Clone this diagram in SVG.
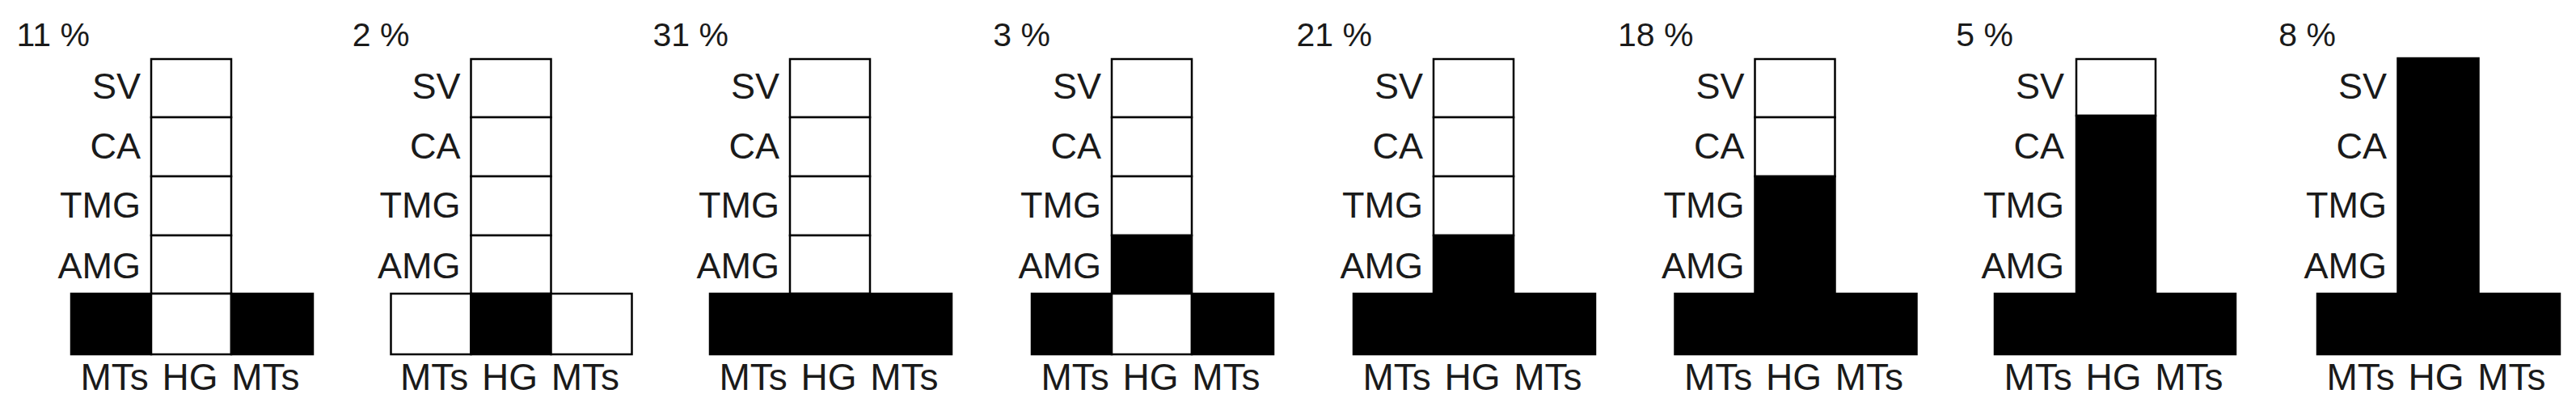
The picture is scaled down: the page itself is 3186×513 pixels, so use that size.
<svg xmlns="http://www.w3.org/2000/svg" width="3186" height="513" viewBox="0 0 3186 513">
<style>
rect{stroke:#000;stroke-width:2.5}
.w{fill:#fff}
.b{fill:#000}
text{font-family:"Liberation Sans",Arial,sans-serif;fill:#1a1a1a}
.pct{font-size:41px;text-anchor:end}
.lbl{font-size:45px;text-anchor:end}
.bot{font-size:46px;text-anchor:middle;word-spacing:4px}
</style>
<rect x="0" y="0" width="3186" height="513" style="fill:#fff;stroke:none"/>
<g id="p1" transform="translate(88,0)">
<text class="pct" x="23" y="57">11 %</text>
<text class="lbl" x="86" y="122">SV</text><text class="lbl" x="86" y="196">CA</text><text class="lbl" x="86" y="269">TMG</text><text class="lbl" x="86" y="343.5">AMG</text>
<rect class="w" x="99" y="73" width="99" height="72"/><rect class="w" x="99" y="145" width="99" height="73"/><rect class="w" x="99" y="218" width="99" height="73"/><rect class="w" x="99" y="291" width="99" height="72"/>
<rect class="b" x="0" y="363" width="99" height="75"/><rect class="w" x="99" y="363" width="99" height="75"/><rect class="b" x="198" y="363" width="101" height="75"/>
<text class="bot" x="147" y="482">MTs HG MTs</text>
</g>
<g id="p2" transform="translate(483.5,0)">
<text class="pct" x="23" y="57">2 %</text>
<text class="lbl" x="86" y="122">SV</text><text class="lbl" x="86" y="196">CA</text><text class="lbl" x="86" y="269">TMG</text><text class="lbl" x="86" y="343.5">AMG</text>
<rect class="w" x="99" y="73" width="99" height="72"/><rect class="w" x="99" y="145" width="99" height="73"/><rect class="w" x="99" y="218" width="99" height="73"/><rect class="w" x="99" y="291" width="99" height="72"/>
<rect class="w" x="0" y="363" width="99" height="75"/><rect class="b" x="99" y="363" width="99" height="75"/><rect class="w" x="198" y="363" width="100" height="75"/>
<text class="bot" x="147" y="482">MTs HG MTs</text>
</g>
<g id="p3" transform="translate(878,0)">
<text class="pct" x="23" y="57">31 %</text>
<text class="lbl" x="86" y="122">SV</text><text class="lbl" x="86" y="196">CA</text><text class="lbl" x="86" y="269">TMG</text><text class="lbl" x="86" y="343.5">AMG</text>
<rect class="w" x="99" y="73" width="99" height="72"/><rect class="w" x="99" y="145" width="99" height="73"/><rect class="w" x="99" y="218" width="99" height="73"/><rect class="w" x="99" y="291" width="99" height="72"/>
<rect class="b" x="0" y="363" width="299" height="75"/>
<text class="bot" x="147" y="482">MTs HG MTs</text>
</g>
<g id="p4" transform="translate(1276,0)">
<text class="pct" x="23" y="57">3 %</text>
<text class="lbl" x="86" y="122">SV</text><text class="lbl" x="86" y="196">CA</text><text class="lbl" x="86" y="269">TMG</text><text class="lbl" x="86" y="343.5">AMG</text>
<rect class="w" x="99" y="73" width="99" height="72"/><rect class="w" x="99" y="145" width="99" height="73"/><rect class="w" x="99" y="218" width="99" height="73"/><rect class="b" x="99" y="291" width="99" height="72"/>
<rect class="b" x="0" y="363" width="99" height="75"/><rect class="w" x="99" y="363" width="99" height="75"/><rect class="b" x="198" y="363" width="101" height="75"/>
<text class="bot" x="147" y="482">MTs HG MTs</text>
</g>
<g id="p5" transform="translate(1674,0)">
<text class="pct" x="23" y="57">21 %</text>
<text class="lbl" x="86" y="122">SV</text><text class="lbl" x="86" y="196">CA</text><text class="lbl" x="86" y="269">TMG</text><text class="lbl" x="86" y="343.5">AMG</text>
<rect class="w" x="99" y="73" width="99" height="72"/><rect class="w" x="99" y="145" width="99" height="73"/><rect class="w" x="99" y="218" width="99" height="73"/><rect class="b" x="99" y="291" width="99" height="72"/>
<rect class="b" x="0" y="363" width="299" height="75"/>
<text class="bot" x="147" y="482">MTs HG MTs</text>
</g>
<g id="p6" transform="translate(2071.5,0)">
<text class="pct" x="23" y="57">18 %</text>
<text class="lbl" x="86" y="122">SV</text><text class="lbl" x="86" y="196">CA</text><text class="lbl" x="86" y="269">TMG</text><text class="lbl" x="86" y="343.5">AMG</text>
<rect class="w" x="99" y="73" width="99" height="72"/><rect class="w" x="99" y="145" width="99" height="73"/><rect class="b" x="99" y="218" width="99" height="145"/>
<rect class="b" x="0" y="363" width="299" height="75"/>
<text class="bot" x="147" y="482">MTs HG MTs</text>
</g>
<g id="p7" transform="translate(2467,0)">
<text class="pct" x="23" y="57">5 %</text>
<text class="lbl" x="86" y="122">SV</text><text class="lbl" x="86" y="196">CA</text><text class="lbl" x="86" y="269">TMG</text><text class="lbl" x="86" y="343.5">AMG</text>
<rect class="w" x="101" y="73" width="98" height="70"/><rect class="b" x="101" y="143" width="98" height="220"/>
<rect class="b" x="0" y="363" width="298" height="75"/>
<text class="bot" x="147" y="482">MTs HG MTs</text>
</g>
<g id="p8" transform="translate(2866,0)">
<text class="pct" x="23" y="57">8 %</text>
<text class="lbl" x="86" y="122">SV</text><text class="lbl" x="86" y="196">CA</text><text class="lbl" x="86" y="269">TMG</text><text class="lbl" x="86" y="343.5">AMG</text>
<rect class="b" x="99.5" y="72" width="100" height="291"/>
<rect class="b" x="0" y="363" width="300" height="75"/>
<text class="bot" x="147" y="482">MTs HG MTs</text>
</g>
<g id="connectors"/>
</svg>
